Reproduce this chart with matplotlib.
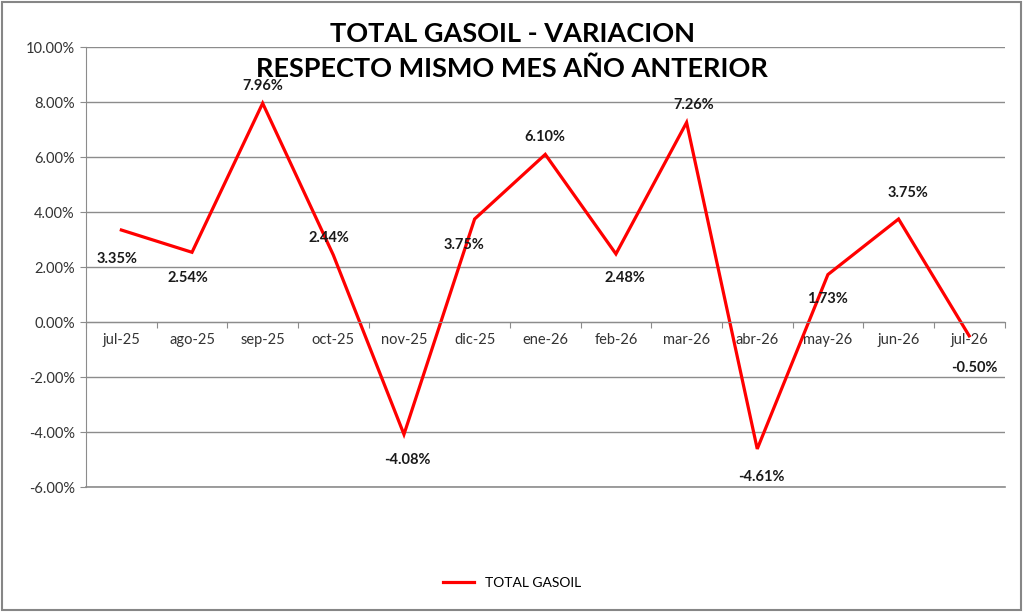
import matplotlib
matplotlib.use("Agg")
import matplotlib.pyplot as plt
from matplotlib.ticker import FixedLocator, FuncFormatter, NullFormatter
from matplotlib.patches import Rectangle

meses = ["jul-25", "ago-25", "sep-25", "oct-25", "nov-25", "dic-25", "ene-26",
         "feb-26", "mar-26", "abr-26", "may-26", "jun-26", "jul-26"]
variacion = [3.35, 2.54, 7.96, 2.44, -4.08, 3.75, 6.10, 2.48, 7.26, -4.61, 1.73, 3.75, -0.50]
y_ticks = [-6, -4, -2, 0, 2, 4, 6, 8, 10]

# label offsets in pixels (dx, dy)
offs = [(-4, -29), (-4, -26), (0, 17), (-4, 17), (3, -26), (-11, -26), (0, 17),
        (9, -24), (7, 17), (4, -28), (0, -24), (9, 26), (5, -32)]

plt.rcParams['font.family'] = ['Lato', 'DejaVu Sans']

fig = plt.figure(figsize=(10.24, 6.12), dpi=100)
fig.patches.append(Rectangle((0.002, 0.003), 0.995, 0.994, transform=fig.transFigure,
                             fill=False, edgecolor="#868686", linewidth=1.5))
ax = fig.add_axes([0.084, 0.204, 0.897, 0.719])

x = list(range(len(meses)))
ax.plot(x, variacion, color="#ff0000", linewidth=2.3, label="TOTAL GASOIL", solid_joinstyle="miter")

for xi, v, (dx, dy) in zip(x, variacion, offs):
    ax.annotate(f"{v:.2f}%", (xi, v), xytext=(dx * 0.72, dy * 0.72), textcoords="offset points",
                ha="center", va="center", fontsize=10.5, fontweight="bold", color="#1a1a1a")

ax.set_xlim(-0.5, len(meses) - 0.5)
ax.set_ylim(-6, 10)
ax.yaxis.set_major_locator(FixedLocator(y_ticks))
ax.yaxis.set_major_formatter(FuncFormatter(lambda v, p: f"{v:.2f}%"))
ax.grid(axis="y", color="#8c8c8c", linewidth=1)
ax.axhline(y_ticks[0], color="#8c8c8c", linewidth=1.2, clip_on=False, zorder=0.5)
ax.set_axisbelow(True)

ax.xaxis.set_major_locator(FixedLocator([i - 0.5 for i in range(len(meses) + 1)]))
ax.xaxis.set_major_formatter(NullFormatter())
ax.xaxis.set_minor_locator(FixedLocator(x))
ax.set_xticklabels(meses, minor=True)
ax.tick_params(axis="x", which="major", length=4, color="#8c8c8c", direction="out")
ax.tick_params(axis="x", which="minor", length=0, pad=8, labelsize=10.5, labelcolor="#333333")
ax.tick_params(axis="y", length=4, color="#8c8c8c", labelsize=10.5, labelcolor="#333333", pad=4)

ax.spines["bottom"].set_position(("data", 0))
ax.spines["bottom"].set_color("#8c8c8c")
ax.spines["left"].set_color("#8c8c8c")
ax.spines["top"].set_visible(False)
ax.spines["right"].set_visible(False)

fig.text(0.5, 0.916, "TOTAL GASOIL - VARIACION\nRESPECTO MISMO MES AÑO ANTERIOR",
         ha="center", va="center", fontsize=19.5, fontweight="bold", linespacing=1.5)

leg = fig.legend(loc="center", bbox_to_anchor=(0.5, 0.047), frameon=False, fontsize=10,
                 handlelength=2.2)

fig.savefig("out.png", dpi=100)
